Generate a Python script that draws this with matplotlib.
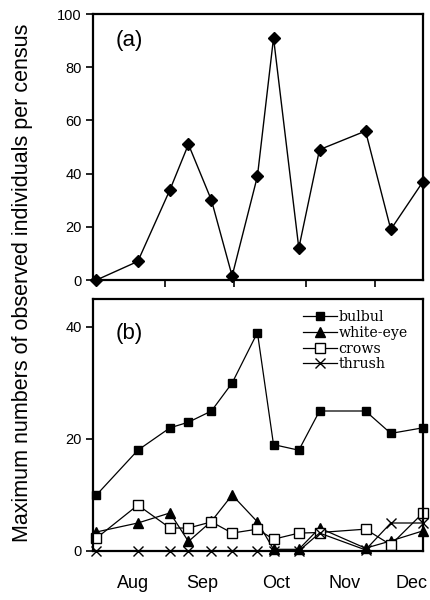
import numpy as np
import matplotlib.pyplot as plt

# census dates, days since 1 Aug
days = [1, 19, 33, 41, 51, 60, 71, 78, 89, 98, 118, 129, 143]

# (a) all species
total = [0, 7, 34, 51, 30, 1.5, 39, 91, 12, 49, 56, 19, 37]

# (b) per species
bulbul = [10, 18, 22, 23, 25, 30, 39, 19, 18, 25, 25, 21, 22]
whiteeye = [3.4, 5, 6.8, 1.7, 5.3, 10, 5.2, 0.3, 0.3, 4.1, 0.5, 1.8, 3.6]
crows = [2.3, 8.2, 4.1, 4.1, 5.2, 3.2, 3.9, 2.1, 3.2, 3.3, 3.9, 1.1, 6.8]
thrush = [0, 0, 0, 0, 0, 0, 0, 0, 0, 3.2, 0.2, 5, 5]

month_edges = [31, 61, 92, 122]
month_mid = [17, 47, 79, 109, 138]
month_names = ['Aug', 'Sep', 'Oct', 'Nov', 'Dec']

plt.rcParams['font.family'] = 'Liberation Sans'

fig = plt.figure(figsize=(4.3, 6.0), dpi=100)
ax1 = fig.add_axes([93/430, 1-280/600, 330/430, 266/600])
ax2 = fig.add_axes([93/430, 1-551/600, 330/430, 252/600])

for ax in (ax1, ax2):
    for s in ax.spines.values():
        s.set_linewidth(1.6)
    ax.set_xlim(-0.5, 143)
    ax.tick_params(axis='y', direction='out', length=5, width=1.2, labelsize=10.5, pad=3)

#%% panel a
ax1.plot(days, total, color='black', lw=1, marker='D', ms=6, clip_on=False)
ax1.set_ylim(0, 100)
ax1.set_yticks([0, 20, 40, 60, 80, 100])
ax1.set_xticks(month_edges)
ax1.set_xticklabels([])
ax1.tick_params(axis='x', direction='out', length=5, width=1.2)
ax1.text(0.07, 0.88, '(a)', transform=ax1.transAxes, fontsize=16)

#%% panel b
ax2.plot(days, bulbul, color='black', lw=0.9, marker='s', ms=5.5, label='bulbul', clip_on=False)
ax2.plot(days, whiteeye, color='black', lw=0.9, marker='^', ms=7, label='white-eye', clip_on=False)
ax2.plot(days, crows, color='black', lw=0.9, marker='s', ms=7, mfc='white', label='crows', clip_on=False)
ax2.plot(days, thrush, color='black', lw=0.9, marker='x', ms=7, mew=1, label='thrush', clip_on=False)
ax2.set_ylim(0, 45)
ax2.set_yticks([0, 20, 40])
ax2.set_xticks([])
ax2.set_xticks(month_mid, minor=True)
ax2.set_xticklabels(month_names, minor=True)
ax2.tick_params(axis='x', which='minor', length=0, labelsize=13, pad=17)
ax2.text(0.07, 0.865, '(b)', transform=ax2.transAxes, fontsize=16, va='center')
ax2.legend(loc='upper left', bbox_to_anchor=(0.636, 0.955), frameon=False,
           prop={'family': 'DejaVu Serif', 'size': 10.2}, handlelength=2.4,
           handletextpad=0.1, labelspacing=0.12, borderaxespad=0, borderpad=0)

fig.text(23/430, 0.528, 'Maximum numbers of observed individuals per census',
         rotation=90, va='center', ha='center', fontsize=15.5)

fig.savefig('out.png', dpi=100)
